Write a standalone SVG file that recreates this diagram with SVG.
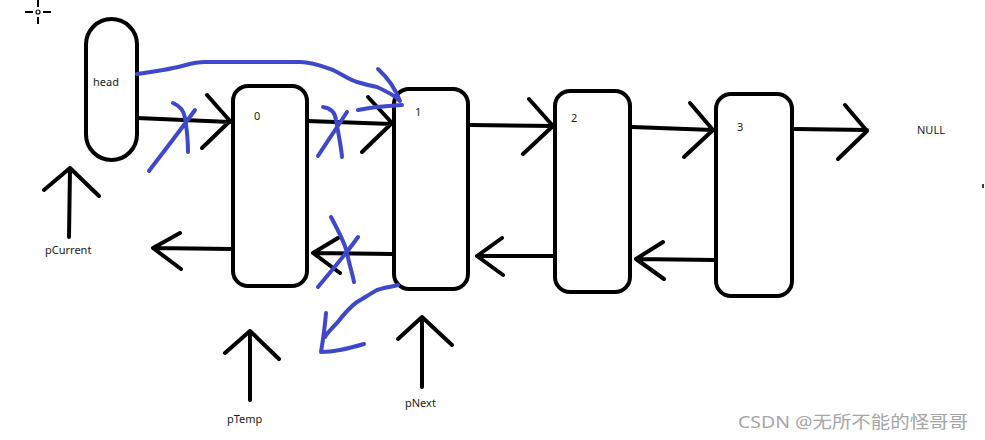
<svg xmlns="http://www.w3.org/2000/svg" width="985" height="440" viewBox="0 0 985 440">
<style>
.nd{fill:#fff;stroke:#000;stroke-width:4}
.ln{fill:none;stroke:#000;stroke-width:4;stroke-linecap:round;stroke-linejoin:round}
.bl{fill:none;stroke:#3f48cc;stroke-width:4;stroke-linecap:round;stroke-linejoin:round}
.t{font-family:"Noto Sans","Open Sans",sans-serif;font-size:11px;fill:#222}
</style>
<rect width="985" height="440" fill="#fff"/>
<g id="cursor" stroke="#000" stroke-width="2" fill="none">
<line x1="25" y1="12" x2="33" y2="12"/><line x1="43" y1="12" x2="51" y2="12"/>
<line x1="38" y1="0" x2="38" y2="7"/><line x1="38" y1="17" x2="38" y2="24"/>
<circle cx="38" cy="12" r="2" stroke-width="1.2"/>
</g>
<g id="head"><rect class="nd" x="86" y="19" width="51" height="141" rx="25.5"/><text class="t" x="93" y="86">head</text></g>
<g id="n0"><rect class="nd" x="233" y="86" width="74" height="200" rx="15"/><text class="t" x="254" y="120">0</text></g>
<g id="n1"><rect class="nd" x="394" y="89" width="74" height="200" rx="15"/><text class="t" x="415" y="116">1</text></g>
<g id="n2"><rect class="nd" x="555" y="91" width="75" height="201" rx="15"/><text class="t" x="571" y="122">2</text></g>
<g id="n3"><rect class="nd" x="716" y="94" width="76" height="202" rx="15"/><text class="t" x="737" y="131">3</text></g>
<g id="null"><text class="t" x="917" y="134">NULL</text></g>
<g id="pCurrent"><text class="t" x="45" y="254">pCurrent</text></g>
<g id="pTemp"><text class="t" x="227" y="423">pTemp</text></g>
<g id="pNext"><text class="t" x="405" y="407">pNext</text></g>
<g id="connectors">
<path class="ln" d="M137,118 L230,122 M207,95 L230,121 L202,148"/>
<path class="ln" d="M307,121 L392,124 M368,97 L392,123 L362,152"/>
<path class="ln" d="M470,125 L553,126 M529,99 L553,126 L523,154"/>
<path class="ln" d="M632,127 L713,130 M690,103 L713,130 L684,157"/>
<path class="ln" d="M795,129 L867,130 M845,105 L867,131 L838,159"/>
<path class="ln" d="M232,249 L153,248 M180,233 L153,248 L181,269"/>
<path class="ln" d="M393,254 L313,253 M338,238 L313,253 L340,273"/>
<path class="ln" d="M555,256 L477,256 M502,238 L477,256 L503,275"/>
<path class="ln" d="M715,260 L636,259 M663,242 L636,259 L664,279"/>
<path class="ln" d="M69,237 L70,168 M44,190 L70,168 L99,196"/>
<path class="ln" d="M250,400 L250,331 M225,353 L250,331 L279,359"/>
<path class="ln" d="M422,387 L422,317 M398,339 L422,317 L452,345"/>
<line x1="983" y1="184" x2="983" y2="188" stroke="#000" stroke-width="1.5"/>
</g>
<g id="annotations">
<path class="bl" d="M137,74 C150,72 165,70 173,68 C185,66 192,62 205,62 L300,62 C312,62 322,66 333,70 C345,76 350,80 357,82 C367,85 372,86 377,87 C388,92 395,96 399,100"/>
<path class="bl" d="M378,69 C388,78 395,88 400,101 M358,110 C372,107 385,106 402,105"/>
<path class="bl" d="M149,171 C165,150 182,128 195,110 M173,103 C180,106 184,110 185,118 C187,130 188,142 188,152"/>
<path class="bl" d="M318,156 C328,140 338,126 347,112 M323,107 C330,108 335,112 336,120 C338,132 341,145 342,157"/>
<path class="bl" d="M318,287 C332,270 346,254 358,237 M331,217 C338,230 345,243 347,253 C349,263 352,272 354,282"/>
<path class="bl" d="M398,285 C390,287 383,288 377,290 C370,294 364,298 357,302 C350,307 344,314 337,323 C331,329 327,333 325,337 M326,313 C325,325 323,340 321,352 C330,352 335,351 340,350 C350,348 357,346 364,344"/>
</g>
<g id="watermark"><text x="738" y="428" font-family="'Noto Sans','Noto Sans CJK SC',sans-serif" font-size="17" fill="#a6a6a6" textLength="230" lengthAdjust="spacingAndGlyphs">CSDN @无所不能的怪哥哥</text></g>
</svg>
